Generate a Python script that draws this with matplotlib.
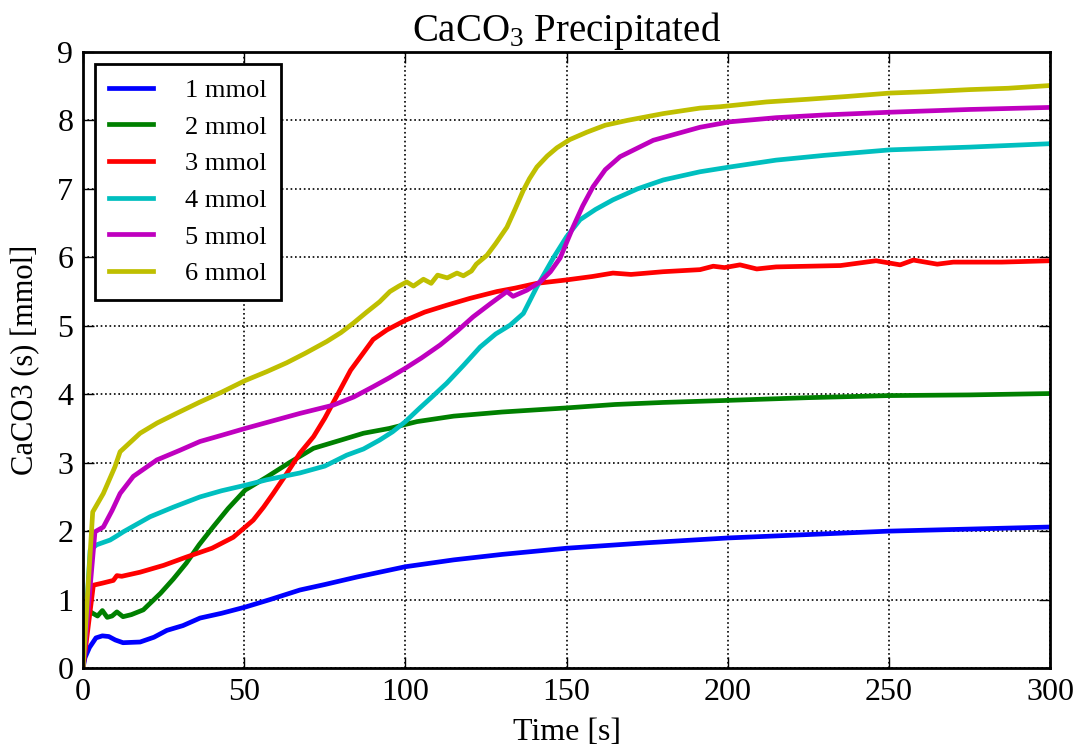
import matplotlib
matplotlib.use('Agg')
import matplotlib.pyplot as plt

plt.rcParams['font.family'] = ['Liberation Serif', 'DejaVu Serif']
plt.rcParams['mathtext.fontset'] = 'custom'
plt.rcParams['mathtext.rm'] = 'Liberation Serif'
plt.rcParams['mathtext.it'] = 'Liberation Serif:italic'

# 1 mmol
t1 = [0, 0.6, 2, 4, 6, 8, 10, 12.4, 17.7, 22, 26, 31, 36.3, 43, 50.3, 58, 67.3, 75,
      85, 100, 115, 130, 150, 175, 200, 225, 250, 275, 300]
v1 = [0.0, 0.15, 0.3, 0.44, 0.47, 0.46, 0.41, 0.37, 0.38, 0.45, 0.55, 0.62, 0.73, 0.8, 0.89,
      1.0, 1.14, 1.22, 1.33, 1.48, 1.58, 1.66, 1.75, 1.83, 1.9, 1.95, 2.0, 2.03, 2.06]

# 2 mmol
t2 = [0, 1.3, 3, 4.5, 6, 7.5, 9, 10.5, 12.4, 15, 18.7, 24, 28, 32, 36, 40.5, 45, 50.3,
      57, 64, 71.5, 80, 87, 95, 103.6, 115, 130, 150, 165, 180, 200, 225, 250, 275, 300]
v2 = [0.0, 0.85, 0.8, 0.76, 0.84, 0.74, 0.76, 0.82, 0.75, 0.78, 0.85, 1.09, 1.3, 1.53, 1.8,
      2.07, 2.33, 2.6, 2.79, 3.0, 3.21, 3.33, 3.43, 3.5, 3.6, 3.68, 3.74, 3.8, 3.85, 3.88,
      3.91, 3.95, 3.98, 3.99, 4.01]

# 3 mmol
t3 = [0, 3.2, 6, 9.4, 10.5, 12, 17.7, 25, 32, 40, 46.6, 52.8, 56, 59, 63.3, 67.3, 71.5,
      75, 79.7, 83, 86.9, 90, 94.3, 100, 106, 112.8, 120, 128.4, 134, 140.8, 150, 158,
      164.4, 170, 180, 191.4, 195.5, 199, 203.8, 209, 215, 225, 235, 246, 253.5, 257.6,
      265, 270, 285, 300]
v3 = [0.0, 1.21, 1.24, 1.28, 1.35, 1.34, 1.4, 1.5, 1.62, 1.75, 1.91, 2.16, 2.35, 2.55, 2.85,
      3.14, 3.38, 3.65, 4.06, 4.35, 4.6, 4.8, 4.94, 5.08, 5.2, 5.3, 5.4, 5.5, 5.55, 5.62,
      5.67, 5.72, 5.77, 5.75, 5.79, 5.82, 5.87, 5.85, 5.89, 5.83, 5.86, 5.87, 5.88, 5.95,
      5.89, 5.96, 5.9, 5.93, 5.93, 5.95]

# 4 mmol
t4 = [0, 2.2, 4.2, 8.4, 10.5, 12.5, 20.8, 28, 36.3, 43, 50.3, 57, 67.3, 75, 81.8, 87,
      92, 96, 100, 104.5, 108, 112.8, 118, 123.2, 128, 132.5, 136.6, 140.8, 146, 150,
      154.2, 159, 164.4, 172, 180, 191.4, 200.7, 215, 230, 250.4, 275, 300]
v4 = [0.0, 1.72, 1.8, 1.87, 1.93, 1.99, 2.21, 2.35, 2.5, 2.59, 2.67, 2.75, 2.85, 2.95, 3.11,
      3.2, 3.33, 3.45, 3.6, 3.8, 3.95, 4.16, 4.42, 4.69, 4.88, 5.01, 5.18, 5.57, 6.0, 6.3,
      6.55, 6.7, 6.84, 7.0, 7.13, 7.25, 7.32, 7.42, 7.49, 7.57, 7.61, 7.66]

# 5 mmol
t5 = [0, 3.7, 6.3, 9, 11.5, 15.6, 22.9, 30, 36.3, 43, 50.3, 58, 67.3, 77.6, 84, 90, 95,
      100, 105, 110.8, 116, 121, 126.3, 131.5, 133.4, 137.7, 141.8, 145, 148, 152,
      155, 158.2, 162, 166.6, 176.9, 191.4, 200.7, 215, 230, 250.4, 275, 300]
v5 = [0.0, 1.99, 2.06, 2.3, 2.55, 2.8, 3.04, 3.18, 3.31, 3.4, 3.5, 3.6, 3.72, 3.84, 3.96,
      4.11, 4.24, 4.38, 4.53, 4.72, 4.92, 5.13, 5.32, 5.5, 5.43, 5.52, 5.64, 5.79, 5.99,
      6.44, 6.75, 7.03, 7.28, 7.47, 7.71, 7.9, 7.98, 8.04, 8.08, 8.12, 8.16, 8.19]

# 6 mmol
t6 = [0, 3, 6.3, 9.9, 11.5, 17.7, 23, 29, 36, 43, 50.3, 57, 63.2, 69, 75.6, 80, 83.9,
      88, 92, 95.2, 98, 100.4, 102.5, 105.6, 108, 110, 113, 116, 118, 120.5, 122, 125.3,
      128, 131.5, 134, 136.6, 138.5, 140.8, 144, 147, 151, 156.4, 162, 168.8, 180,
      191.4, 197.6, 212, 225, 237, 250.4, 262, 275, 287, 300]
v6 = [0.0, 2.28, 2.55, 2.94, 3.16, 3.43, 3.58, 3.72, 3.88, 4.03, 4.2, 4.33, 4.46, 4.6, 4.77,
      4.9, 5.04, 5.2, 5.35, 5.5, 5.58, 5.64, 5.58, 5.68, 5.62, 5.74, 5.7, 5.77, 5.73,
      5.8, 5.9, 6.03, 6.2, 6.44, 6.7, 6.98, 7.15, 7.32, 7.48, 7.6, 7.72, 7.83, 7.93,
      8.0, 8.1, 8.18, 8.2, 8.27, 8.31, 8.35, 8.4, 8.42, 8.45, 8.47, 8.51]

times = [t1, t2, t3, t4, t5, t6]
values = [v1, v2, v3, v4, v5, v6]
labels = ['1 mmol', '2 mmol', '3 mmol', '4 mmol', '5 mmol', '6 mmol']
colors = ['b', 'g', 'r', 'c', 'm', 'y']

fig = plt.figure(figsize=(10.77, 7.5), dpi=100)
ax = fig.add_axes([0.0771, 0.1093, 0.8979, 0.8214])

for t, v, lab, c in zip(times, values, labels, colors):
    ax.plot(t, v, color=c, lw=3.4, label=lab)

ax.set_xlim(0, 300)
ax.set_ylim(0, 9)
ax.set_xticks([0, 50, 100, 150, 200, 250, 300])
ax.set_yticks(range(10))
ax.grid(True, color='k', linestyle=':', linewidth=1.2)
ax.tick_params(direction='in', length=8, width=1, top=True, right=True, labelsize=23, pad=7)
for s in ax.spines.values():
    s.set_linewidth(2)

ax.set_xlabel('Time [s]', fontsize=23, labelpad=8)
ax.set_ylabel('CaCO3 (s) [mmol]', fontsize=22, labelpad=12)
ax.set_title('CaCO$_3$ Precipitated', fontsize=28, pad=8)

leg = ax.legend(loc='upper left', fontsize=19, fancybox=False, handlelength=1.65,
                borderaxespad=0.45, borderpad=0.55, labelspacing=0.5, handletextpad=1.2)
leg.get_frame().set_edgecolor('k')
leg.get_frame().set_linewidth(2)
leg.get_frame().set_alpha(1)

fig.savefig('out.png', dpi=100)
